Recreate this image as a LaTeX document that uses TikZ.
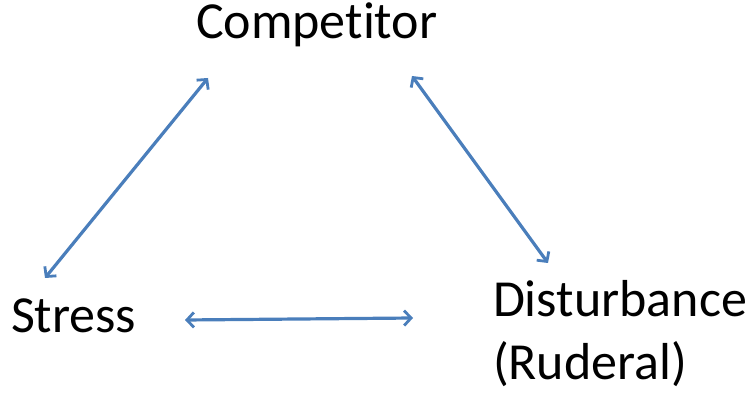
\documentclass[tikz,border=0pt]{standalone}
\usepackage{fontspec}
\setmainfont{Carlito}[RawFeature=-liga]
\usetikzlibrary{arrows.meta}
\definecolor{arrowblue}{HTML}{4A7EBB}
\begin{document}
\begin{tikzpicture}[x=1pt,y=-1pt,
  lbl/.style={inner sep=0pt,outer sep=0pt,anchor=base west,font=\fontsize{52}{63}\selectfont,align=left},
  dbl/.style={draw=arrowblue,line width=3.2pt,{Straight Barb[length=7pt,width=15pt,line width=2.8pt]}-{Straight Barb[length=7pt,width=15pt,line width=2.8pt]}}]
\useasboundingbox (0,0) rectangle (748,406);
\node[lbl] (comp) at (196,38.5) {Competitor};
\node[lbl] (stress) at (11,333) {Stress};
\node[lbl] (dist) at (493,316.5) {Disturbance};
\node[lbl] (rud) at (493,380) {(Ruderal)};
\coordinate (a1) at (45,278);
\coordinate (a2) at (208,78);
\coordinate (b1) at (412,76);
\coordinate (b2) at (548,263);
\coordinate (c1) at (185,320);
\coordinate (c2) at (413,318);
\draw[dbl] (a1) -- (a2);
\draw[dbl] (b1) -- (b2);
\draw[dbl] (c1) -- (c2);
\end{tikzpicture}
\end{document}
